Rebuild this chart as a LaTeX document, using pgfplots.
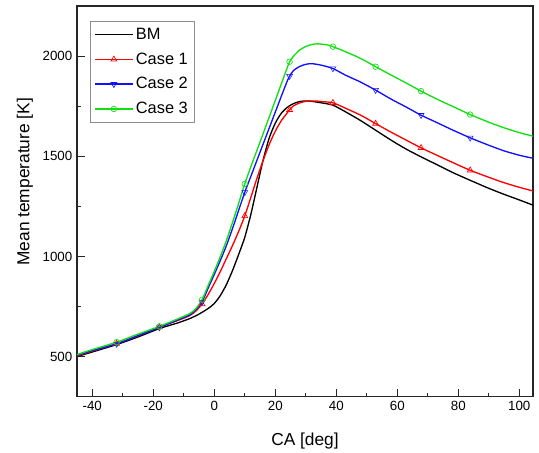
\documentclass[border=0pt]{standalone}
\usepackage{fontspec}
\setmainfont{Liberation Sans}
\usepackage{pgfplots}
\pgfplotsset{compat=1.18}
\usetikzlibrary{calc}
\definecolor{BMcol}{HTML}{000000}
\definecolor{Ccol1}{HTML}{FF0000}
\definecolor{Ccol2}{HTML}{1010FF}
\definecolor{Ccol3}{HTML}{10E010}
\pgfplotsset{
  legline/.style={legend image code/.code={\draw[mark repeat=2,mark phase=2,##1] plot coordinates {(0pt,0pt)(14pt,0pt)(28pt,0pt)};}},
  curve/.style={line width=1pt,no marks,smooth,tension=0.4},
  mk/.style={only marks,mark size=2.5pt,mark options={solid,fill=white,line width=0.5pt}}
}
\begin{document}
\begin{tikzpicture}
\begin{axis}[
  scale only axis,width=342pt,height=293pt,
  xmin=-45,xmax=104.5,ymin=300,ymax=2250,
  xtick={-40,-20,0,20,40,60,80,100},minor x tick num=1,
  ytick={500,1000,1500,2000},minor y tick num=1,
  xtick pos=bottom,ytick pos=left,tick align=inside,
  major tick length=6pt,minor tick length=3pt,
  axis line style={line width=0.9pt,black!85},
  every tick/.style={black!85,line width=0.8pt},
  tick label style={font=\fontsize{10}{12}\selectfont,/pgf/number format/assume math mode=true},
  yticklabel style={/pgf/number format/1000 sep={}},
  label style={font=\fontsize{13}{15}\selectfont},
  xlabel={CA [deg]},ylabel={Mean temperature [K]},
  xlabel style={at={(axis description cs:0.5,0)},anchor=center,yshift=-33pt},
  ylabel style={at={(axis description cs:-0.114,0.55)},anchor=center},
  legend style={at={(axis description cs:0.0285,0.962)},anchor=north west,draw=black!45,line width=0.8pt,
    font=\fontsize{12.3}{14}\selectfont,row sep=4.5pt,inner sep=3pt},
  legend cell align=left,legline,
]
\coordinate (sw) at (rel axis cs:0,0);
\coordinate (ne) at (rel axis cs:1,1);
% BM
\addplot[curve,color=BMcol] coordinates {(-45,500) (-40,523) (-32,560) (-25,598) (-18,640) (-12,668) (-8,690) (-5,712) (-2,740) (0,765) (2,805) (4,860) (6,930) (8,1010) (10,1095) (12,1210) (14,1345) (16,1480) (18,1590) (20,1665) (22,1715) (24,1745) (26,1763) (28,1773) (30,1776) (32,1774) (35,1767) (38.9,1755) (43,1722) (48,1678) (52.9,1630) (58,1580) (63,1535) (67.8,1497) (73,1458) (78,1420) (83.9,1380) (90,1340) (95,1310) (100,1282) (104.5,1256)};
\addlegendentry{BM}
% Case 1
\addplot[curve,color=Ccol1,forget plot] coordinates {(-45,503) (-40,528) (-32,565) (-25,604) (-18,647) (-12,680) (-8,705) (-6,728) (-4,762) (-2,810) (0,865) (2,925) (4,990) (6,1055) (8,1125) (10,1202) (12,1295) (14,1390) (16,1478) (18,1558) (20,1625) (22,1678) (24,1718) (24.7,1732) (26,1752) (28,1766) (30,1774) (33,1776) (36,1772) (38.9,1767) (43,1740) (48,1705) (52.9,1663) (58,1620) (63,1580) (67.8,1542) (73,1505) (78,1470) (83.9,1430) (90,1395) (95,1368) (100,1345) (104.5,1327)};
\addplot[mk,color=Ccol1,mark=triangle,forget plot] coordinates {(-32,565) (-18,647) (-4,762) (10,1202) (24.7,1732) (38.9,1767) (52.9,1663) (67.8,1542) (83.9,1430)};
\addlegendimage{color=Ccol1,line width=1pt,mark=triangle,mark size=2.5pt,mark options={solid,fill=white,line width=0.5pt}}
\addlegendentry{Case 1}
% Case 2
\addplot[curve,color=Ccol2,forget plot] coordinates {(-45,506) (-40,530) (-32,563) (-25,605) (-18,645) (-12,683) (-8,708) (-6,735) (-4,772) (-2,842) (0,910) (2,980) (4,1055) (6,1140) (8,1230) (10,1320) (12,1400) (14,1480) (16,1560) (18,1640) (20,1720) (22,1800) (24,1878) (24.7,1900) (26,1928) (28,1948) (30,1959) (32,1962) (35,1955) (38.9,1938) (43,1905) (48,1870) (52.9,1830) (58,1785) (63,1745) (67.8,1705) (73,1668) (78,1632) (83.9,1592) (90,1555) (95,1527) (100,1505) (104.5,1490)};
\addplot[mk,color=Ccol2,mark=triangle,mark options={rotate=180},forget plot] coordinates {(-32,563) (-18,645) (-4,772) (10,1320) (24.7,1900) (38.9,1938) (52.9,1830) (67.8,1705) (83.9,1592)};
\addlegendimage{color=Ccol2,line width=1pt,mark=triangle,mark size=2.5pt,mark options={solid,fill=white,line width=0.5pt,rotate=180}}
\addlegendentry{Case 2}
% Case 3
\addplot[curve,color=Ccol3,forget plot] coordinates {(-45,510) (-40,535) (-32,572) (-25,612) (-18,651) (-12,688) (-8,715) (-6,740) (-4,784) (-2,855) (0,925) (2,1000) (4,1080) (6,1170) (8,1265) (10,1362) (12,1448) (14,1530) (16,1612) (18,1695) (20,1778) (22,1862) (24,1945) (24.7,1972) (26,2000) (28,2030) (30,2048) (32,2058) (34,2061) (37,2056) (38.9,2047) (43,2022) (48,1988) (52.9,1947) (58,1905) (63,1865) (67.8,1825) (73,1785) (78,1750) (83.9,1708) (90,1670) (95,1642) (100,1618) (104.5,1600)};
\addplot[mk,color=Ccol3,mark=o,mark size=2.1pt,forget plot] coordinates {(-32,572) (-18,651) (-4,784) (10,1362) (24.7,1972) (38.9,2047) (52.9,1947) (67.8,1825) (83.9,1708)};
\addlegendimage{color=Ccol3,line width=1pt,mark=o,mark size=2.1pt,mark options={solid,fill=white,line width=0.5pt}}
\addlegendentry{Case 3}
\end{axis}
\pgfresetboundingbox
\path ($(sw)+(-57.75pt,-42pt)$) rectangle ($(ne)+(4.5pt,4.5pt)$);
\end{tikzpicture}
\end{document}
